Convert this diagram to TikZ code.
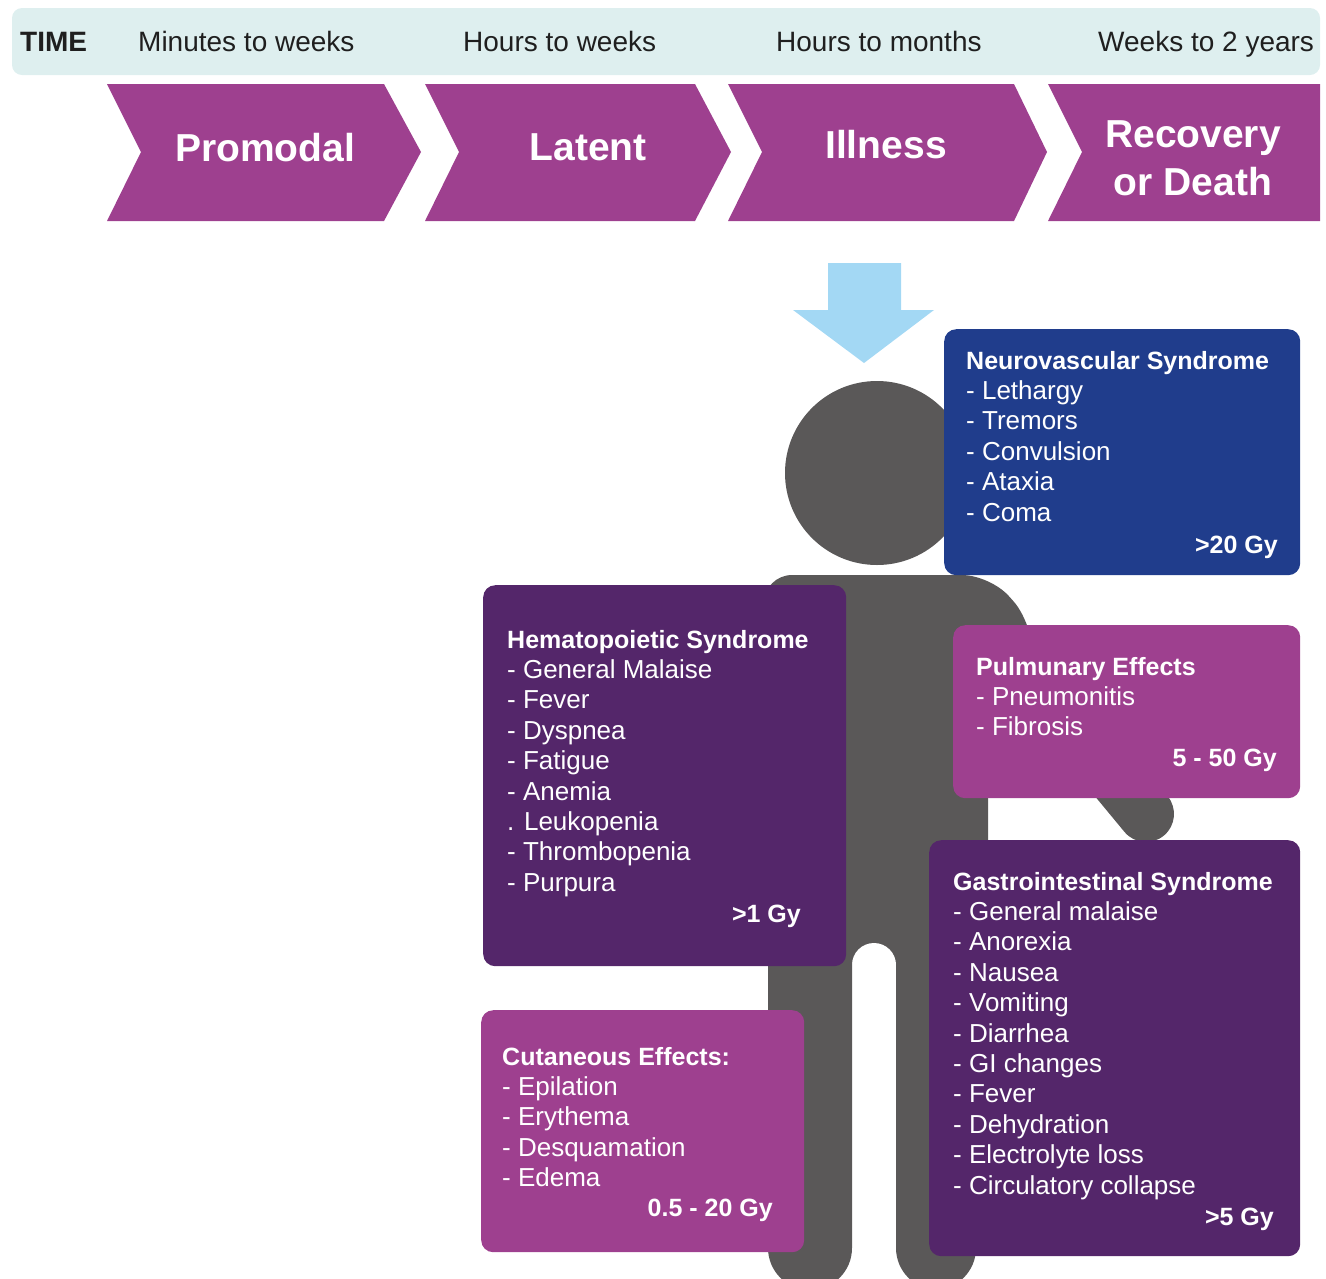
\documentclass[tikz,border=0pt]{standalone}
\usepackage{fontspec}
\setmainfont{Liberation Sans}

\definecolor{timebar}{RGB}{222,239,239}
\definecolor{phase}{RGB}{158,64,143}
\definecolor{deepviolet}{RGB}{84,38,106}
\definecolor{navy}{RGB}{32,61,140}
\definecolor{body}{RGB}{90,88,88}
\definecolor{ray}{RGB}{163,216,244}

\begin{document}
\begin{tikzpicture}[x=1pt,y=-1pt]
    \tikzstyle{timelabel}=[anchor=base west,inner sep=0pt,text=black!88,font=\fontsize{28}{32}\selectfont]
    \tikzstyle{phaselabel}=[inner sep=0pt,text=white,align=center,font=\bfseries\fontsize{39}{48}\selectfont]
    \tikzstyle{box}=[anchor=north west,rounded corners=12pt,inner sep=0pt]
    \tikzstyle{head}=[anchor=base west,inner sep=0pt,text=white,font=\bfseries\fontsize{25}{30}\selectfont]
    \tikzstyle{item}=[anchor=base west,inner sep=0pt,text=white,font=\fontsize{26}{30}\selectfont]
    \tikzstyle{dose}=[anchor=base east,inner sep=0pt,text=white,font=\bfseries\fontsize{25}{30}\selectfont]
    \useasboundingbox (0,0) rectangle (1326,1278);

    % time scale
    \fill[timebar,rounded corners=10pt] (12,8) rectangle (1320,75);
    \node[timelabel,font=\bfseries\fontsize{28}{32}\selectfont] (time) at (20,51) {TIME};
    \foreach \x/\txt in {138/Minutes to weeks, 463/Hours to weeks, 776/Hours to months, 1098/Weeks to 2 years}
        \node[timelabel] (t-\x) at (\x,51) {\txt};

    % phases
    \foreach \l/\n/\r/\t in {107/141/384/421, 425/459/695/731, 728/762/1014/1047}
        \fill[phase] (\l,84) -- (\r,84) -- (\t,152) -- (\r,221) -- (\l,221) -- (\n,152) -- cycle;
    \fill[phase] (1048,84) -- (1320,84) -- (1320,221) -- (1048,221) -- (1082,152) -- cycle;
    \node[phaselabel,anchor=base] (ph-1) at (265,161) {Promodal};
    \node[phaselabel,anchor=base] (ph-2) at (588,160) {Latent};
    \node[phaselabel,anchor=base] (ph-3) at (886,158) {Illness};
    \node[phaselabel,anchor=north] (ph-4) at (1193,120) {Recovery\\or Death};

    % exposure
    \fill[ray] (828,263) -- (901,263) -- (901,310) -- (934,310) -- (864,363) -- (793,310) -- (828,310) -- cycle;

    % figure
    \draw[body,line width=56pt,line cap=round] (1012,652) -- (1146,814);
    \fill[body] (877,473) ellipse [x radius=92pt, y radius=92pt];
    \fill[body,rounded corners=28pt] (764,962) -- (764,575) -- (990,575) -- (1032,622)
        -- (1032,700) -- (988,750) -- (988,962) -- cycle;
    \fill[white,rounded corners=22pt] (852,943) rectangle (896,1320);
    \fill[body,rounded corners=42pt] (768,920) rectangle (852,1290);
    \fill[body,rounded corners=42pt] (896,920) rectangle (976,1290);
    % \fill[white] (852,962) rectangle (896,1278);

    % neurovascular
    \node[box,fill=navy,minimum width=356,minimum height=246] (neuro) at (944,329) {};
    \node[head] (neuro-t) at (966,369) {Neurovascular Syndrome};
    \foreach \txt [count=\i] in {- Lethargy, - Tremors, - Convulsion, - Ataxia, - Coma}
        \node[item] (neuro-\i) at (966,369+30.4*\i) {\txt};
    \node[dose] (neuro-d) at (1278,553) {>20 Gy};

    % hematopoietic
    \node[box,fill=deepviolet,minimum width=363,minimum height=381] (hema) at (483,585) {};
    \node[head] (hema-t) at (507,648) {Hematopoietic Syndrome};
    \foreach \txt [count=\i] in {- General Malaise, - Fever, - Dyspnea, - Fatigue, - Anemia, . Leukopenia, - Thrombopenia, - Purpura}
        \node[item] (hema-\i) at (507,648+30.4*\i) {\txt};
    \node[dose] (hema-d) at (801,922) {>1 Gy};

    % pulmonary
    \node[box,fill=phase,minimum width=347,minimum height=173] (pulm) at (953,625) {};
    \node[head] (pulm-t) at (976,675) {Pulmunary Effects};
    \foreach \txt [count=\i] in {- Pneumonitis, - Fibrosis}
        \node[item] (pulm-\i) at (976,675+30.4*\i) {\txt};
    \node[dose] (pulm-d) at (1277,766) {5 - 50 Gy};

    % gastrointestinal
    \node[box,fill=deepviolet,minimum width=371,minimum height=416] (gastro) at (929,840) {};
    \node[head] (gastro-t) at (953,890) {Gastrointestinal Syndrome};
    \foreach \txt [count=\i] in {- General malaise, - Anorexia, - Nausea, - Vomiting, - Diarrhea, - GI changes, - Fever, - Dehydration, - Electrolyte loss, - Circulatory collapse}
        \node[item] (gastro-\i) at (953,890+30.4*\i) {\txt};
    \node[dose] (gastro-d) at (1274,1225) {>5 Gy};

    % cutaneous
    \node[box,fill=phase,minimum width=323,minimum height=242] (cut) at (481,1010) {};
    \node[head] (cut-t) at (502,1065) {Cutaneous Effects:};
    \foreach \txt [count=\i] in {- Epilation, - Erythema, - Desquamation, - Edema}
        \node[item] (cut-\i) at (502,1065+30.4*\i) {\txt};
    \node[dose] (cut-d) at (773,1216) {0.5 - 20 Gy};
\end{tikzpicture}
\end{document}
